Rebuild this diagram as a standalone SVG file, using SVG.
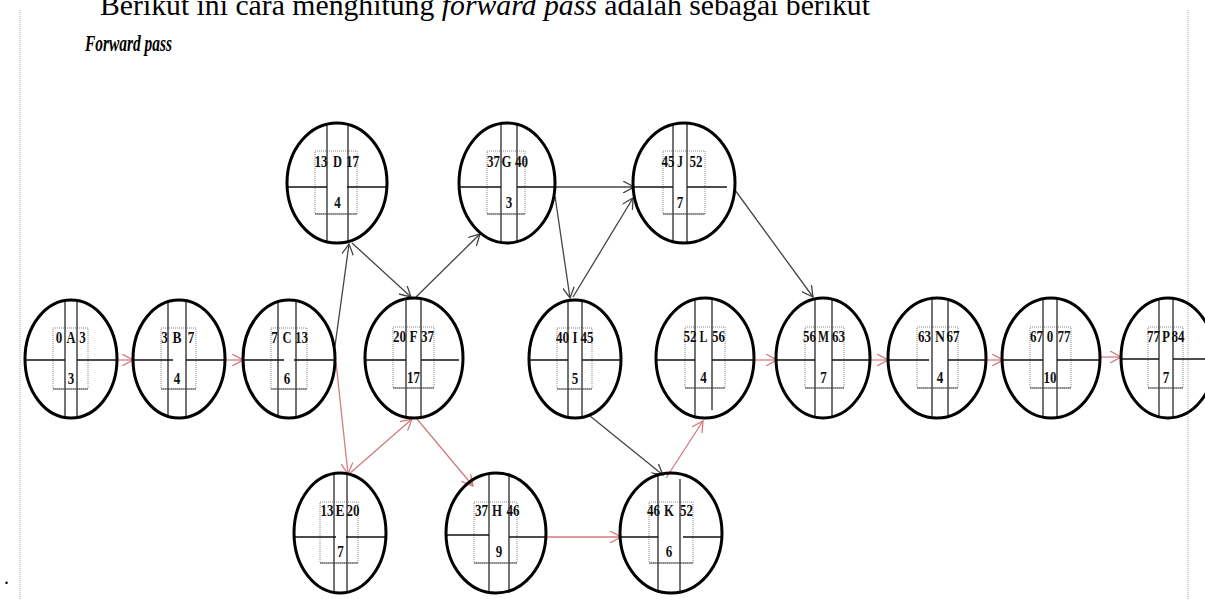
<svg xmlns="http://www.w3.org/2000/svg" width="1205" height="599" viewBox="0 0 1205 599">
<style>
.ring{fill:none;stroke:#000;stroke-width:3}
.box{fill:none;stroke:#888;stroke-width:1;stroke-dasharray:1 1}
.boxb{stroke:#555;stroke-width:1.2}
.vl{stroke:#444;stroke-width:1.5}
.hl{stroke:#111;stroke-width:1.5}
.t{font-family:"Liberation Serif","Times New Roman",serif;font-weight:bold;font-size:17px;fill:#111}
.red{stroke:#d47a7e;stroke-width:1.3;fill:none;marker-end:url(#ar)}
.blk{stroke:#444;stroke-width:1.3;fill:none;marker-end:url(#ab)}
.page{stroke:#aaa;stroke-width:1;stroke-dasharray:1 1}
</style>
<defs>
<marker id="ar" viewBox="0 0 12 12" refX="11" refY="6" markerWidth="12" markerHeight="12" orient="auto" markerUnits="userSpaceOnUse"><path d="M0,0 L11,6 L0,12" fill="none" stroke="#d47a7e" stroke-width="1.3"/></marker>
<marker id="ab" viewBox="0 0 12 12" refX="11" refY="6" markerWidth="12" markerHeight="12" orient="auto" markerUnits="userSpaceOnUse"><path d="M0,0 L11,6 L0,12" fill="none" stroke="#444" stroke-width="1.3"/></marker>
</defs>
<rect width="1205" height="599" fill="#fff"/>
<line class="page" x1="20" y1="10" x2="20" y2="599"/>
<line class="page" x1="1188" y1="10" x2="1188" y2="599"/>
<text x="100" y="15" font-family="Liberation Serif,serif" font-size="30" fill="#000" textLength="770" lengthAdjust="spacingAndGlyphs">Berikut ini cara menghitung <tspan font-style="italic">forward pass</tspan> adalah sebagai berikut</text>
<text x="85" y="51" font-family="Liberation Serif,serif" font-size="24" font-weight="bold" font-style="italic" fill="#000" textLength="87" lengthAdjust="spacingAndGlyphs">Forward pass</text>
<text x="4" y="584" font-family="Liberation Serif,serif" font-size="20" fill="#000">.</text>

<g id="connectors">
<line class="red" x1="118" y1="360" x2="133" y2="360"/>
<line class="red" x1="225" y1="360" x2="243" y2="360"/>
<line class="blk" x1="335" y1="346" x2="349" y2="244"/>
<line class="red" x1="336" y1="362" x2="348" y2="474"/>
<line class="blk" x1="352" y1="243" x2="411" y2="297"/>
<line class="blk" x1="416" y1="297" x2="480" y2="234"/>
<line class="red" x1="349" y1="474" x2="412" y2="419"/>
<line class="red" x1="417" y1="419" x2="473" y2="486"/>
<line class="blk" x1="555" y1="187" x2="634" y2="187"/>
<line class="blk" x1="555" y1="196" x2="570" y2="298"/>
<line class="blk" x1="573" y1="297" x2="633" y2="198"/>
<line class="blk" x1="735" y1="190" x2="813" y2="297"/>
<line class="blk" x1="590" y1="416" x2="663" y2="475"/>
<line class="red" x1="547" y1="537" x2="621" y2="537"/>
<line class="red" x1="666" y1="478" x2="703" y2="421"/>
<line class="red" x1="755" y1="360" x2="777" y2="360"/>
<line class="red" x1="871" y1="360" x2="888" y2="360"/>
<line class="red" x1="987" y1="360" x2="1003" y2="360"/>
<line class="red" x1="1100" y1="357" x2="1121" y2="357"/>
</g>

<g id="node-A">
<rect class="box" x="53" y="328" width="35" height="61"/><line class="boxb" x1="53" y1="389" x2="88" y2="389"/>
<line class="vl" x1="65" y1="300" x2="65" y2="418"/><line class="vl" x1="77" y1="300" x2="77" y2="418"/>
<line class="hl" x1="25" y1="360" x2="65" y2="360"/><line class="hl" x1="77" y1="360" x2="117" y2="360"/>
<ellipse class="ring" cx="71" cy="359" rx="46" ry="59"/>
<text class="t" x="55.75" y="343" textLength="6.5" lengthAdjust="spacingAndGlyphs">0</text>
<text class="t" x="66.5" y="343" textLength="9" lengthAdjust="spacingAndGlyphs">A</text>
<text class="t" x="79.25" y="343" textLength="6.5" lengthAdjust="spacingAndGlyphs">3</text>
<text class="t" x="67.75" y="384" textLength="6.5" lengthAdjust="spacingAndGlyphs">3</text>
</g>

<g id="node-B">
<rect class="box" x="161" y="328" width="35" height="61"/><line class="boxb" x1="161" y1="389" x2="196" y2="389"/>
<line class="vl" x1="168" y1="300" x2="168" y2="418"/><line class="vl" x1="186" y1="300" x2="186" y2="418"/>
<line class="hl" x1="133" y1="360" x2="173" y2="360"/><line class="hl" x1="186" y1="360" x2="225" y2="360"/>
<ellipse class="ring" cx="179" cy="359" rx="46" ry="59"/>
<text class="t" x="161.25" y="343" textLength="6.5" lengthAdjust="spacingAndGlyphs">3</text>
<text class="t" x="172.5" y="343" textLength="9" lengthAdjust="spacingAndGlyphs">B</text>
<text class="t" x="187.75" y="343" textLength="6.5" lengthAdjust="spacingAndGlyphs">7</text>
<text class="t" x="173.75" y="384" textLength="6.5" lengthAdjust="spacingAndGlyphs">4</text>
</g>

<g id="node-C">
<rect class="box" x="271" y="328" width="36" height="61"/><line class="boxb" x1="271" y1="389" x2="307" y2="389"/>
<line class="vl" x1="278" y1="300" x2="278" y2="418"/><line class="vl" x1="296" y1="300" x2="296" y2="418"/>
<line class="hl" x1="243" y1="360" x2="284" y2="360"/><line class="hl" x1="294" y1="360" x2="335" y2="360"/>
<ellipse class="ring" cx="289" cy="359" rx="46" ry="59"/>
<text class="t" x="271.25" y="343" textLength="6.5" lengthAdjust="spacingAndGlyphs">7</text>
<text class="t" x="282.5" y="343" textLength="9" lengthAdjust="spacingAndGlyphs">C</text>
<text class="t" x="295" y="343" textLength="13" lengthAdjust="spacingAndGlyphs">13</text>
<text class="t" x="283.75" y="384" textLength="6.5" lengthAdjust="spacingAndGlyphs">6</text>
</g>

<g id="node-D">
<rect class="box" x="315" y="151" width="42" height="63"/><line class="boxb" x1="315" y1="214" x2="357" y2="214"/>
<line class="vl" x1="327" y1="123" x2="327" y2="243"/><line class="vl" x1="348" y1="123" x2="348" y2="243"/>
<line class="hl" x1="287" y1="187" x2="327" y2="187"/><line class="hl" x1="347" y1="187" x2="387" y2="187"/>
<ellipse class="ring" cx="337" cy="183" rx="50" ry="60"/>
<text class="t" x="314.5" y="167" textLength="13" lengthAdjust="spacingAndGlyphs">13</text>
<text class="t" x="333" y="167" textLength="9" lengthAdjust="spacingAndGlyphs">D</text>
<text class="t" x="346" y="167" textLength="13" lengthAdjust="spacingAndGlyphs">17</text>
<text class="t" x="334.25" y="208" textLength="6.5" lengthAdjust="spacingAndGlyphs">4</text>
</g>

<g id="node-E">
<rect class="box" x="320" y="502" width="38" height="61"/><line class="boxb" x1="320" y1="563" x2="358" y2="563"/>
<line class="vl" x1="334" y1="473" x2="334" y2="593"/><line class="vl" x1="347" y1="473" x2="347" y2="593"/>
<line class="hl" x1="294" y1="537" x2="336" y2="537"/><line class="hl" x1="346" y1="537" x2="386" y2="537"/>
<ellipse class="ring" cx="340" cy="533" rx="46" ry="60"/>
<text class="t" x="320.5" y="516" textLength="13" lengthAdjust="spacingAndGlyphs">13</text>
<text class="t" x="335.5" y="516" textLength="9" lengthAdjust="spacingAndGlyphs">E</text>
<text class="t" x="346.5" y="516" textLength="13" lengthAdjust="spacingAndGlyphs">20</text>
<text class="t" x="337.25" y="557" textLength="6.5" lengthAdjust="spacingAndGlyphs">7</text>
</g>

<g id="node-F">
<rect class="box" x="393" y="327" width="41" height="61"/><line class="boxb" x1="393" y1="388" x2="434" y2="388"/>
<line class="vl" x1="406" y1="298" x2="406" y2="418"/><line class="vl" x1="421" y1="298" x2="421" y2="418"/>
<line class="hl" x1="365" y1="360" x2="406" y2="360"/><line class="hl" x1="421" y1="360" x2="459" y2="360"/>
<ellipse class="ring" cx="414" cy="358" rx="49" ry="60"/>
<text class="t" x="393" y="342" textLength="13" lengthAdjust="spacingAndGlyphs">20</text>
<text class="t" x="409.5" y="342" textLength="8" lengthAdjust="spacingAndGlyphs">F</text>
<text class="t" x="421" y="342" textLength="13" lengthAdjust="spacingAndGlyphs">37</text>
<text class="t" x="407" y="383" textLength="13" lengthAdjust="spacingAndGlyphs">17</text>
</g>

<g id="node-G">
<rect class="box" x="487" y="151" width="38" height="63"/><line class="boxb" x1="487" y1="214" x2="525" y2="214"/>
<line class="vl" x1="501" y1="123" x2="501" y2="243"/><line class="vl" x1="517" y1="123" x2="517" y2="243"/>
<line class="hl" x1="459" y1="187" x2="501" y2="187"/><line class="hl" x1="517" y1="187" x2="555" y2="187"/>
<ellipse class="ring" cx="507" cy="183" rx="48" ry="60"/>
<text class="t" x="487" y="167" textLength="13" lengthAdjust="spacingAndGlyphs">37</text>
<text class="t" x="501.5" y="167" textLength="10" lengthAdjust="spacingAndGlyphs">G</text>
<text class="t" x="515" y="167" textLength="13" lengthAdjust="spacingAndGlyphs">40</text>
<text class="t" x="505.75" y="208" textLength="6.5" lengthAdjust="spacingAndGlyphs">3</text>
</g>

<g id="node-H">
<rect class="box" x="474" y="502" width="43" height="61"/><line class="boxb" x1="474" y1="563" x2="517" y2="563"/>
<line class="vl" x1="489" y1="473" x2="489" y2="593"/><line class="vl" x1="509" y1="473" x2="509" y2="593"/>
<line class="hl" x1="446" y1="535" x2="489" y2="535"/><line class="hl" x1="509" y1="537" x2="546" y2="537"/>
<ellipse class="ring" cx="496" cy="533" rx="50" ry="60"/>
<text class="t" x="475" y="516" textLength="13" lengthAdjust="spacingAndGlyphs">37</text>
<text class="t" x="492" y="516" textLength="10" lengthAdjust="spacingAndGlyphs">H</text>
<text class="t" x="506.5" y="516" textLength="13" lengthAdjust="spacingAndGlyphs">46</text>
<text class="t" x="495.75" y="557" textLength="6.5" lengthAdjust="spacingAndGlyphs">9</text>
</g>

<g id="node-I">
<rect class="box" x="557" y="328" width="35" height="61"/><line class="boxb" x1="557" y1="389" x2="592" y2="389"/>
<line class="vl" x1="568" y1="300" x2="568" y2="418"/><line class="vl" x1="582" y1="300" x2="582" y2="418"/>
<line class="hl" x1="529" y1="360" x2="568" y2="360"/><line class="hl" x1="582" y1="360" x2="621" y2="360"/>
<ellipse class="ring" cx="575" cy="359" rx="46" ry="59"/>
<text class="t" x="556" y="343" textLength="13" lengthAdjust="spacingAndGlyphs">40</text>
<text class="t" x="572.5" y="343" textLength="5" lengthAdjust="spacingAndGlyphs">I</text>
<text class="t" x="580.5" y="343" textLength="13" lengthAdjust="spacingAndGlyphs">45</text>
<text class="t" x="571.75" y="384" textLength="6.5" lengthAdjust="spacingAndGlyphs">5</text>
</g>

<g id="node-J">
<rect class="box" x="663" y="151" width="42" height="63"/><line class="boxb" x1="663" y1="214" x2="705" y2="214"/>
<line class="vl" x1="673" y1="123" x2="673" y2="243"/><line class="vl" x1="687" y1="123" x2="687" y2="243"/>
<line class="hl" x1="633" y1="187" x2="673" y2="187"/><line class="hl" x1="687" y1="187" x2="727" y2="187"/>
<ellipse class="ring" cx="684" cy="183" rx="51" ry="60"/>
<text class="t" x="661.5" y="167" textLength="13" lengthAdjust="spacingAndGlyphs">45</text>
<text class="t" x="677" y="167" textLength="6" lengthAdjust="spacingAndGlyphs">J</text>
<text class="t" x="689.5" y="167" textLength="13" lengthAdjust="spacingAndGlyphs">52</text>
<text class="t" x="676.75" y="208" textLength="6.5" lengthAdjust="spacingAndGlyphs">7</text>
</g>

<g id="node-K">
<rect class="box" x="649" y="502" width="44" height="61"/><line class="boxb" x1="649" y1="563" x2="693" y2="563"/>
<line class="vl" x1="658" y1="473" x2="658" y2="593"/><line class="vl" x1="680" y1="479" x2="680" y2="593"/>
<line class="hl" x1="620" y1="537" x2="658" y2="537"/><line class="hl" x1="683" y1="537" x2="722" y2="537"/>
<ellipse class="ring" cx="671" cy="533" rx="51" ry="60"/>
<text class="t" x="647" y="516" textLength="13" lengthAdjust="spacingAndGlyphs">46</text>
<text class="t" x="664" y="516" textLength="10" lengthAdjust="spacingAndGlyphs">K</text>
<text class="t" x="680" y="516" textLength="13" lengthAdjust="spacingAndGlyphs">52</text>
<text class="t" x="665.75" y="557" textLength="6.5" lengthAdjust="spacingAndGlyphs">6</text>
</g>

<g id="node-L">
<rect class="box" x="685" y="327" width="40" height="61"/><line class="boxb" x1="685" y1="388" x2="725" y2="388"/>
<line class="vl" x1="695" y1="298" x2="695" y2="418"/><line class="vl" x1="712" y1="298" x2="712" y2="410"/>
<line class="hl" x1="656" y1="360" x2="695" y2="360"/><line class="hl" x1="712" y1="360" x2="755" y2="360"/>
<ellipse class="ring" cx="705" cy="358" rx="49" ry="60"/>
<text class="t" x="683.5" y="342" textLength="13" lengthAdjust="spacingAndGlyphs">52</text>
<text class="t" x="699.5" y="342" textLength="8" lengthAdjust="spacingAndGlyphs">L</text>
<text class="t" x="712" y="342" textLength="13" lengthAdjust="spacingAndGlyphs">56</text>
<text class="t" x="700.25" y="383" textLength="6.5" lengthAdjust="spacingAndGlyphs">4</text>
</g>

<g id="node-M">
<rect class="box" x="805" y="327" width="39" height="61"/><line class="boxb" x1="805" y1="388" x2="844" y2="388"/>
<line class="vl" x1="815" y1="298" x2="815" y2="418"/><line class="vl" x1="832" y1="298" x2="832" y2="418"/>
<line class="hl" x1="777" y1="360" x2="815" y2="360"/><line class="hl" x1="832" y1="360" x2="870" y2="360"/>
<ellipse class="ring" cx="823" cy="358" rx="47" ry="60"/>
<text class="t" x="803" y="342" textLength="13" lengthAdjust="spacingAndGlyphs">56</text>
<text class="t" x="818" y="342" textLength="11" lengthAdjust="spacingAndGlyphs">M</text>
<text class="t" x="832" y="342" textLength="13" lengthAdjust="spacingAndGlyphs">63</text>
<text class="t" x="820.25" y="383" textLength="6.5" lengthAdjust="spacingAndGlyphs">7</text>
</g>

<g id="node-N">
<rect class="box" x="917" y="327" width="41" height="61"/><line class="boxb" x1="917" y1="388" x2="958" y2="388"/>
<line class="vl" x1="932" y1="298" x2="932" y2="418"/><line class="vl" x1="948" y1="298" x2="948" y2="418"/>
<line class="hl" x1="888" y1="360" x2="929" y2="360"/><line class="hl" x1="948" y1="360" x2="986" y2="360"/>
<ellipse class="ring" cx="937" cy="358" rx="49" ry="60"/>
<text class="t" x="918" y="342" textLength="13" lengthAdjust="spacingAndGlyphs">63</text>
<text class="t" x="935" y="342" textLength="10" lengthAdjust="spacingAndGlyphs">N</text>
<text class="t" x="946.5" y="342" textLength="13" lengthAdjust="spacingAndGlyphs">67</text>
<text class="t" x="936.75" y="383" textLength="6.5" lengthAdjust="spacingAndGlyphs">4</text>
</g>

<g id="node-O">
<rect class="box" x="1030" y="327" width="41" height="61"/><line class="boxb" x1="1030" y1="388" x2="1071" y2="388"/>
<line class="vl" x1="1043" y1="298" x2="1043" y2="418"/><line class="vl" x1="1057" y1="298" x2="1057" y2="418"/>
<line class="hl" x1="1002" y1="360" x2="1043" y2="360"/><line class="hl" x1="1057" y1="360" x2="1100" y2="360"/>
<ellipse class="ring" cx="1051" cy="358" rx="49" ry="60"/>
<text class="t" x="1030" y="342" textLength="13" lengthAdjust="spacingAndGlyphs">67</text>
<text class="t" x="1046.75" y="342" textLength="6.5" lengthAdjust="spacingAndGlyphs">0</text>
<text class="t" x="1057.5" y="342" textLength="13" lengthAdjust="spacingAndGlyphs">77</text>
<text class="t" x="1043.5" y="383" textLength="13" lengthAdjust="spacingAndGlyphs">10</text>
</g>

<g id="node-P">
<rect class="box" x="1148" y="327" width="35" height="61"/><line class="boxb" x1="1148" y1="388" x2="1183" y2="388"/>
<line class="vl" x1="1159" y1="298" x2="1159" y2="418"/><line class="vl" x1="1173" y1="298" x2="1173" y2="418"/>
<line class="hl" x1="1121" y1="359" x2="1159" y2="359"/><line class="hl" x1="1173" y1="359" x2="1205" y2="359"/>
<ellipse class="ring" cx="1168" cy="358" rx="47" ry="60"/>
<text class="t" x="1147" y="342" textLength="13" lengthAdjust="spacingAndGlyphs">77</text>
<text class="t" x="1162" y="342" textLength="8" lengthAdjust="spacingAndGlyphs">P</text>
<text class="t" x="1171.5" y="342" textLength="13" lengthAdjust="spacingAndGlyphs">84</text>
<text class="t" x="1162.75" y="383" textLength="6.5" lengthAdjust="spacingAndGlyphs">7</text>
</g>
</svg>
